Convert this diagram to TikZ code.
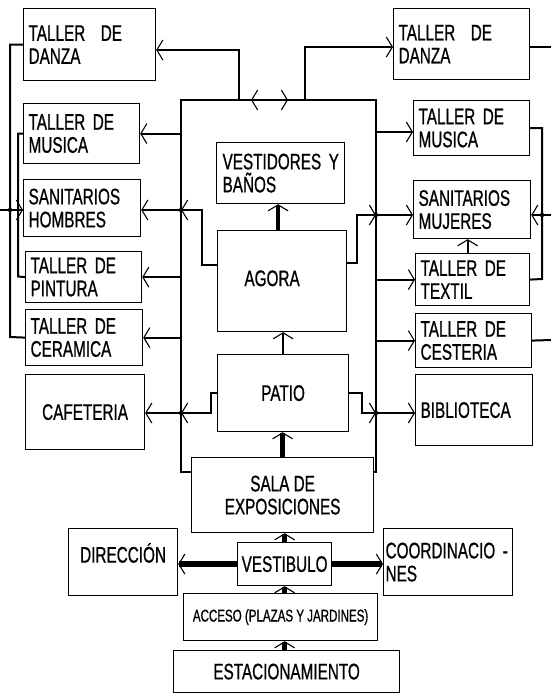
\documentclass[tikz,border=0pt]{standalone}
\usepackage{fontspec}
\setmainfont{Liberation Sans}[FakeStretch=0.68,FakeBold=0.8]
\usetikzlibrary{arrows.meta}
\begin{document}
\begin{tikzpicture}[x=1pt,y=-1pt,
  every node/.style={font=\fontsize{22.5}{23}\selectfont, inner ysep=0pt},
  bx/.style={draw, line width=1.2pt, anchor=north west, inner ysep=0pt},
  lb/.style={bx, align=left, inner xsep=5pt},
  cb/.style={bx, align=center, inner xsep=2pt},
  conn/.style={line width=2pt},
  tk/.style={line width=4.5pt},
  vtk/.style={line width=6.5pt},
  arr/.style={-{Straight Barb[length=6pt,width=20pt,line width=1.1pt]}}
]
\useasboundingbox (0,0) rectangle (551,693);

% left column
\node[lb, text width=122pt, minimum height=72pt] (danzaL) at (23,8) {TALLER\hspace{8pt} DE\\DANZA};
\node[lb, text width=106pt, minimum height=60pt] (musL) at (23,103) {TALLER DE\\MUSICA};
\node[lb, text width=107pt, minimum height=57pt] (homb) at (23,179) {SANITARIOS\\HOMBRES};
\node[lb, text width=106pt, minimum height=51pt] (pint) at (25,251) {TALLER DE\\PINTURA};
\node[lb, text width=107pt, minimum height=56pt] (cera) at (25,309) {TALLER DE\\CERAMICA};
\node[cb, minimum width=119pt, minimum height=75pt] (cafe) at (25,374) {CAFETERIA};

% right column
\node[lb, text width=126pt, minimum height=71pt] (danzaR) at (393,8) {TALLER\hspace{8pt} DE\\DANZA};
\node[lb, text width=106pt, minimum height=55pt] (musR) at (413,100) {TALLER DE\\MUSICA};
\node[lb, text width=107pt, minimum height=58pt] (muj) at (413,180) {SANITARIOS\\MUJERES};
\node[lb, text width=104pt, minimum height=52pt] (tex) at (415,253) {TALLER DE\\TEXTIL};
\node[lb, text width=106pt, minimum height=54pt] (cest) at (415,313) {TALLER DE\\CESTERIA};
\node[lb, text width=107pt, minimum height=71pt] (bibl) at (415,374) {BIBLIOTECA};

% center
\node[lb, inner xsep=6pt, text width=116pt, minimum height=61pt] (vest) at (216,142) {VESTIDORES~Y\\BAÑOS};
\node[cb, minimum width=129pt, minimum height=101pt, text height=16pt, text depth=6pt] (agora) at (217,230) {AGORA\hspace*{20pt}};
\node[cb, minimum width=131pt, minimum height=77pt] (patio) at (217,354) {PATIO};
\node[cb, minimum width=182pt, minimum height=75pt] (sala) at (191,457) {SALA DE\\EXPOSICIONES};
\node[cb, minimum width=94pt, minimum height=43pt] (vestib) at (237,542) {VESTIBULO};
\node[cb, minimum width=109pt, minimum height=67pt, text height=16pt, text depth=15pt] (dir) at (68,528) {DIRECCIÓN};
\node[lb, inner xsep=2pt, text width=125pt, minimum height=67pt] (coord) at (383,528) {COORDINACIO -\\NES};
\node[cb, minimum width=194pt, minimum height=47pt, font=\fontsize{17}{18}\selectfont] (acceso) at (183,593) {ACCESO (PLAZAS Y JARDINES)};
\node[cb, minimum width=226pt, minimum height=42pt] (estac) at (173,650) {ESTACIONAMIENTO};

% enclosure
\coordinate (hTL) at (181,100); \coordinate (hTR) at (376,100);
\coordinate (hBL) at (181,472); \coordinate (hBR) at (376,472);
\draw[conn] (sala.west |- hBL) -- (hBL) -- (hTL) -- (hTR) -- (hBR) -- (sala.east |- hBR);

% top
\coordinate (tL) at (239,100); \coordinate (tL2) at (239,50);
\coordinate (tR) at (305,100); \coordinate (tR2) at (305,47);
\coordinate (tC) at (270,100); \coordinate (tAL) at (251,100); \coordinate (tAR) at (288,100);
\draw[conn,arr] (tL) -- (tL2) -- (danzaL.east |- tL2);
\draw[conn,arr] (tR) -- (tR2) -- (danzaR.west |- tR2);
\draw[conn,arr] (tC) -- (tAL);
\draw[conn,arr] (tC) -- (tAR);

% left from hall
\coordinate (jL) at (181,210);
\coordinate (jBL) at (181,413);
\draw[conn,arr] (hTL |- musL.east) -- (musL.east);
\draw[conn,arr] (jL) -- (homb.east |- jL);
\draw[conn,arr] (hTL |- pint.east) -- (pint.east);
\draw[conn,arr] (hTL |- cera.east) -- (cera.east);
\draw[conn,arr] (jBL) -- (cafe.east |- jBL);

% right from hall
\coordinate (jMR) at (376,132);
\coordinate (jR) at (376,215);
\coordinate (jBR) at (376,413);
\draw[conn,arr] (jMR) -- (musR.west |- jMR);
\draw[conn,arr] (jR) -- (muj.west |- jR);
\draw[conn,arr] (hTR |- tex.west) -- (tex.west);
\draw[conn,arr] (hTR |- cest.west) -- (cest.west);
\draw[conn,arr] (jBR) -- (bibl.west |- jBR);

% agora / patio side links
\coordinate (aL) at (202,265); \coordinate (aR) at (357,263);
\draw[conn,arr] (agora.west |- aL) -- (aL) -- (aL |- jL) -- (jL);
\draw[conn,arr] (agora.east |- aR) -- (aR) -- (aR |- jR) -- (jR);
\coordinate (pL) at (211,393); \coordinate (pR) at (362,393);
\draw[conn,arr] (patio.west |- pL) -- (pL) -- (pL |- jBL) -- (jBL);
\draw[conn,arr] (patio.east |- pR) -- (pR) -- (pR |- jBR) -- (jBR);
\fill (jL) circle (2.2pt);
\fill (jR) circle (2.2pt);
\fill (jBL) circle (2.2pt);
\fill (jBR) circle (2.2pt);

% outer left
\coordinate (oL) at (10,337); \coordinate (oL2) at (18,276.5);
\draw[conn] (danzaL.west) -| (oL) -- (cera.west);
\draw[conn] (musL.west) -| (oL2) -- (pint.west);
\coordinate (inL) at (0,210);
\draw[conn,arr] (inL) -- (homb.west |- inL);
\fill (oL |- inL) circle (2.2pt);

% outer right
\coordinate (oR) at (542,279);
\draw[conn] (musR.east) -| (oR) -- (tex.east);
\coordinate (inR) at (551,215);
\draw[conn,arr] (inR) -- (muj.east |- inR);
\fill (oR |- inR) circle (2.2pt);
\coordinate (exDR) at (551,47);
\draw[conn] (danzaR.east |- exDR) -- (exDR);
\coordinate (exC) at (551,340);
\draw[conn] (cest.east) -- (exC);
\draw[conn,arr] ([xshift=-5pt]tex.north) -- ([xshift=-5pt]tex.north |- muj.south);

% center spine
\draw[tk,arr] ([xshift=-4pt]agora.north) -- ([xshift=-4pt]agora.north |- vest.south);
\draw[conn,arr] (patio.north) -- (patio.north |- agora.south);
\draw[tk,arr] (sala.north) -- (sala.north |- patio.south);
\draw[tk,arr] (vestib.north) -- (vestib.north |- sala.south);
\draw[tk,arr] (vestib.south |- acceso.north) -- (vestib.south);
\draw[tk,arr] (vestib.south |- estac.north) -- (vestib.south |- acceso.south);
\draw[vtk,arr] (vestib.west) -- (dir.east |- vestib.west);
\draw[vtk,arr] (vestib.east) -- (coord.west |- vestib.east);
\end{tikzpicture}
\end{document}
